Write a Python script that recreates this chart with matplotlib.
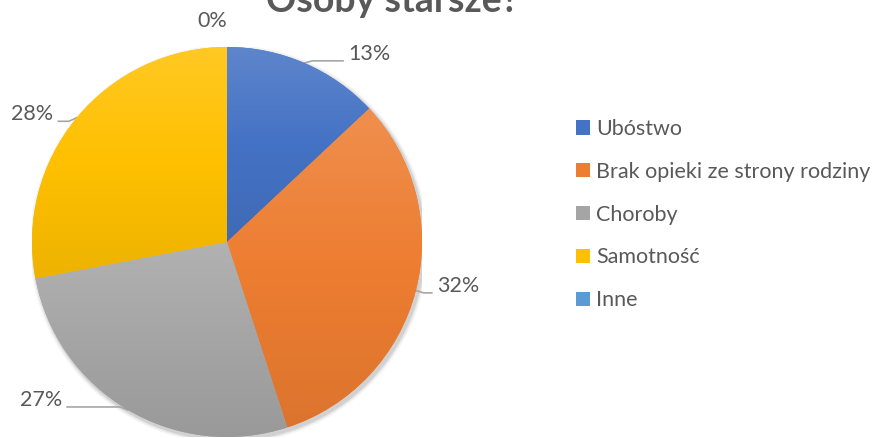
import matplotlib
matplotlib.use("Agg")
import matplotlib.pyplot as plt
from matplotlib.patches import Circle
from matplotlib.colors import to_rgb, LinearSegmentedColormap
import numpy as np

plt.rcParams['font.family'] = ['Lato', 'DejaVu Sans']

title = "Osoby starsze?"
categories = ["Ubóstwo", "Brak opieki ze strony rodziny", "Choroby", "Samotność", "Inne"]
values = [13, 32, 27, 28, 0]
colors = ["#4472C4", "#ED7D31", "#A5A5A5", "#FFC000", "#5B9BD5"]

# label offsets (data units, relative to pie centre) - picked by eye
label_pos = [(0.62, 0.965), (1.075, -0.225), (-0.845, -0.81), (-0.89, 0.655), (-0.077, 1.135)]
label_ha = ["left", "left", "right", "right", "center"]

text_col = "#595959"

fig = plt.figure(figsize=(8.78, 4.38), dpi=100)
ax = fig.add_axes([32 / 878, 1 / 438, 390 / 878, 390 / 438])

# soft shadow behind the pie
for r, a in [(1.022, 0.04), (1.014, 0.06), (1.007, 0.09)]:
    ax.add_patch(Circle((0.01, -0.013), r, color="black", alpha=a, lw=0, zorder=0))

wedges, _ = ax.pie(values, colors=colors, startangle=90, counterclock=False,
                   radius=1, wedgeprops=dict(linewidth=0, zorder=1))
ax.set_xlim(-1, 1)
ax.set_ylim(-1, 1)
ax.set_aspect("equal")
ax.axis("off")

# Excel-like vertical gradient on each slice (lighter top, darker bottom)
grad = np.linspace(0, 1, 256).reshape(-1, 1)
for w, c in zip(wedges, colors):
    base = np.array(to_rgb(c))
    top = base + (1 - base) * 0.14
    bot = base * 0.93
    cmap = LinearSegmentedColormap.from_list("g", [bot, base, top])
    bb = w.get_path().get_extents(w.get_patch_transform())
    if bb.height <= 0:
        continue
    im = ax.imshow(grad, cmap=cmap, origin="lower", aspect="auto",
                   extent=[bb.x0, bb.x1, bb.y0, bb.y1], zorder=1.5,
                   interpolation="bilinear")
    im.set_clip_path(w)
ax.set_xlim(-1, 1)
ax.set_ylim(-1, 1)

total = sum(values)
for w, v, (lx, ly), ha in zip(wedges, values, label_pos, label_ha):
    pct = f"{round(100 * v / total)}%"
    ang = np.deg2rad((w.theta1 + w.theta2) / 2)
    ex, ey = np.cos(ang), np.sin(ang)
    if v > 0:
        # leader line runs along the label baseline and bends into the slice
        end_x = lx - 0.025 if ha == "left" else lx + 0.025
        yb = ly - 0.036
        mid_x = ex + (0.04 if ha == "left" else -0.04)
        ax.plot([ex, mid_x, end_x], [ey, yb, yb], color="#A6A6A6", lw=1.2,
                clip_on=False, zorder=0.5, solid_joinstyle="round")
    ax.text(lx, ly, pct, ha=ha, va="center", fontsize=15.5, color=text_col)

fig.text(392 / 878, 1 - 12 / 438, title, ha="center", va="baseline",
         fontsize=27, fontweight="bold", color=text_col)

leg = fig.legend(wedges, categories, loc="upper left",
                 bbox_to_anchor=(576 / 878, 1 - 119 / 438),
                 frameon=False, fontsize=15.5, labelcolor=text_col,
                 handlelength=0.65, handleheight=0.65, handletextpad=0.3,
                 labelspacing=1.06, borderpad=0, borderaxespad=0)

fig.savefig("out.png", dpi=100)
